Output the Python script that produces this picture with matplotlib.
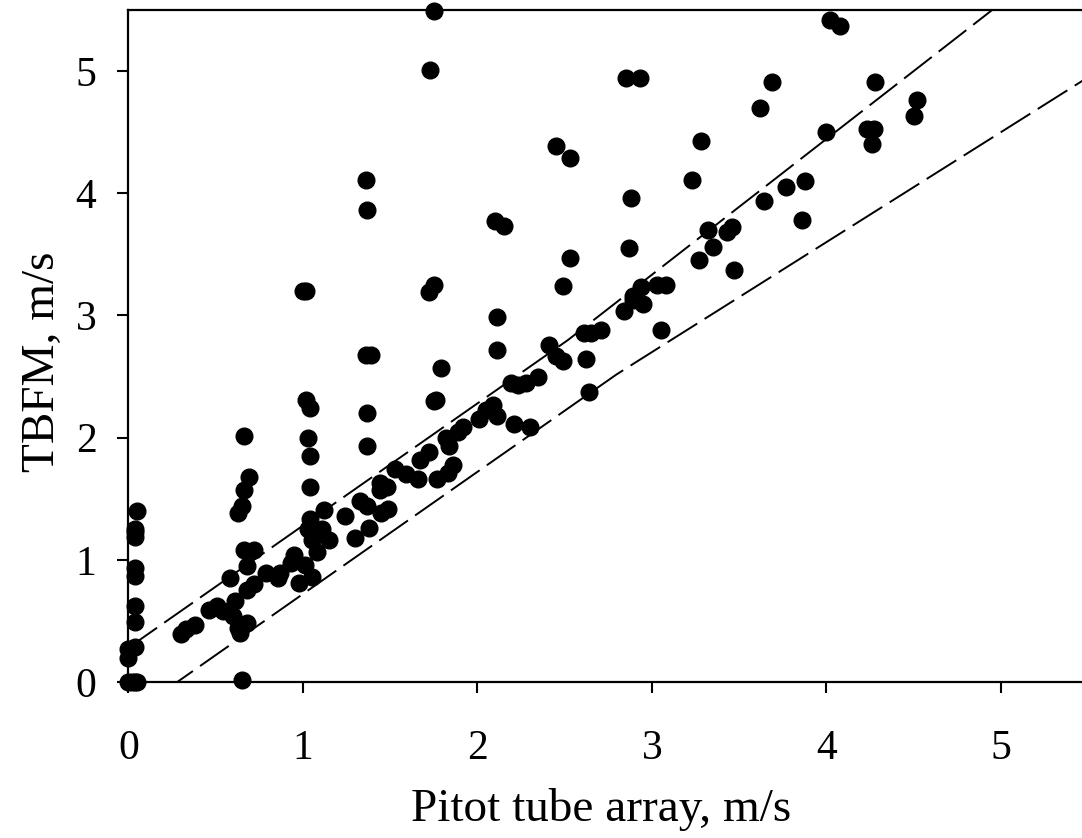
import matplotlib
matplotlib.use("Agg")
import matplotlib.pyplot as plt
import numpy as np

# pitot tube array (x) vs TBFM (y), m/s
pitot = [
    0.00, 0.02, 0.04, 0.05, 0.00, 0.00, 0.04, 0.04, 0.04, 0.04, 0.04, 0.04, 0.04, 0.04, 0.05,
    0.30, 0.33, 0.38, 0.46, 0.51, 0.54, 0.58, 0.61, 0.60, 0.63, 0.64, 0.68, 0.65, 0.63, 0.65,
    0.66, 0.69, 0.66, 0.66, 0.72, 0.68, 0.68, 0.72, 0.79, 0.86, 0.87, 0.95, 0.93, 1.01, 0.98, 1.05,
    1.02, 1.04, 1.03, 1.04, 1.04, 1.04, 1.03, 1.07, 1.05, 1.08, 1.11, 1.15, 1.12, 1.00, 1.02,
    1.24, 1.30, 1.33, 1.37, 1.38, 1.37, 1.37, 1.36, 1.39, 1.36, 1.37, 1.44, 1.49, 1.45, 1.53, 1.48, 1.44,
    1.59, 1.66, 1.67, 1.72, 1.77, 1.83, 1.86, 1.84, 1.82, 1.89, 1.92, 1.79, 1.75, 1.76, 1.72, 1.75, 1.73, 1.75,
    2.01, 2.05, 2.09, 2.11, 2.11, 2.11, 2.10, 2.15, 2.19, 2.21, 2.23, 2.28, 2.30, 2.35, 2.41, 2.45, 2.49,
    2.45, 2.53, 2.53, 2.49,
    2.62, 2.61, 2.65, 2.71, 2.64, 2.84, 2.89, 2.95, 2.94, 2.89, 2.85, 2.93, 2.88, 2.87,
    3.03, 3.08, 3.05, 3.28, 3.23, 3.32, 3.43, 3.46, 3.35, 3.27, 3.47,
    3.62, 3.69, 3.64, 3.77, 3.88, 3.86, 4.00, 4.02, 4.08, 4.28, 4.23, 4.27, 4.26, 4.50, 4.52,
]
tbfm = [
    0.00, 0.00, 0.00, 0.00, 0.20, 0.27, 0.29, 0.49, 0.62, 0.87, 0.93, 1.19, 1.23, 1.25, 1.40,
    0.39, 0.43, 0.47, 0.59, 0.62, 0.58, 0.85, 0.66, 0.54, 0.44, 0.40, 0.48, 0.02, 1.38, 1.44,
    1.57, 1.68, 2.01, 1.08, 1.08, 0.95, 0.75, 0.80, 0.89, 0.85, 0.89, 1.04, 0.97, 0.96, 0.81, 0.86,
    2.31, 2.24, 2.00, 1.85, 1.60, 1.33, 1.25, 1.22, 1.16, 1.06, 1.25, 1.16, 1.41, 3.20, 3.20,
    1.36, 1.18, 1.48, 1.44, 1.26, 1.93, 2.20, 2.68, 2.68, 4.11, 3.86, 1.57, 1.42, 1.38, 1.74, 1.60, 1.63,
    1.70, 1.66, 1.82, 1.88, 1.66, 1.71, 1.78, 1.93, 2.00, 2.05, 2.09, 2.57, 2.30, 2.31, 3.19, 3.25, 5.01, 5.49,
    2.15, 2.23, 2.27, 2.18, 2.99, 2.72, 3.77, 3.73, 2.45, 2.11, 2.43, 2.45, 2.09, 2.50, 2.76, 2.67, 2.63,
    4.39, 4.29, 3.47, 3.24,
    2.64, 2.86, 2.86, 2.88, 2.37, 3.04, 3.13, 3.09, 3.23, 3.16, 4.94, 4.94, 3.96, 3.55,
    3.25, 3.25, 2.88, 4.43, 4.11, 3.70, 3.68, 3.72, 3.56, 3.45, 3.37,
    4.70, 4.91, 3.94, 4.05, 4.10, 3.78, 4.50, 5.42, 5.37, 4.91, 4.53, 4.53, 4.40, 4.63, 4.76,
]

# accuracy band: +/-0.28 m/s or 10 %, whichever is wider
band_abs = 0.28
band_rel = 0.9

plt.rcParams['font.family'] = ['Liberation Serif', 'DejaVu Serif']

fig = plt.figure(figsize=(10.82, 8.38), dpi=100)
ax = fig.add_axes([128.4 / 1082, 1 - 682 / 838, 959.75 / 1082, 672 / 838])

xs = np.linspace(0, 5.5, 300)
upper = np.maximum(xs + band_abs, xs / band_rel)
lower = np.minimum(xs - band_abs, xs * band_rel)
ax.plot(xs, upper, color='black', lw=1.4, dashes=(18, 4.5))
ax.plot(xs, lower, color='black', lw=1.4, dashes=(18, 4.5))

ax.plot(pitot, tbfm, 'o', color='black', markersize=12, clip_on=False, zorder=5)

ax.set_xlim(0, 5.5)
ax.set_ylim(0, 5.5)
ax.set_xticks([0, 1, 2, 3, 4, 5])
ax.set_yticks([0, 1, 2, 3, 4, 5])

for s in ax.spines.values():
    s.set_linewidth(1.6)
ax.tick_params(direction='out', length=8, width=1.5, labelsize=30)
ax.tick_params(axis='x', pad=26)
ax.tick_params(axis='y', pad=15)

ax.set_xlabel('Pitot tube array, m/s', fontsize=34)
ax.set_ylabel('TBFM, m/s', fontsize=34)
ax.xaxis.label.set_va('center')
ax.yaxis.label.set_va('center')
ax.xaxis.set_label_coords((601 - 128.4) / 959.75, -0.19)
ax.yaxis.set_label_coords(-0.089, 0.476)

fig.savefig('out.png', dpi=100)
